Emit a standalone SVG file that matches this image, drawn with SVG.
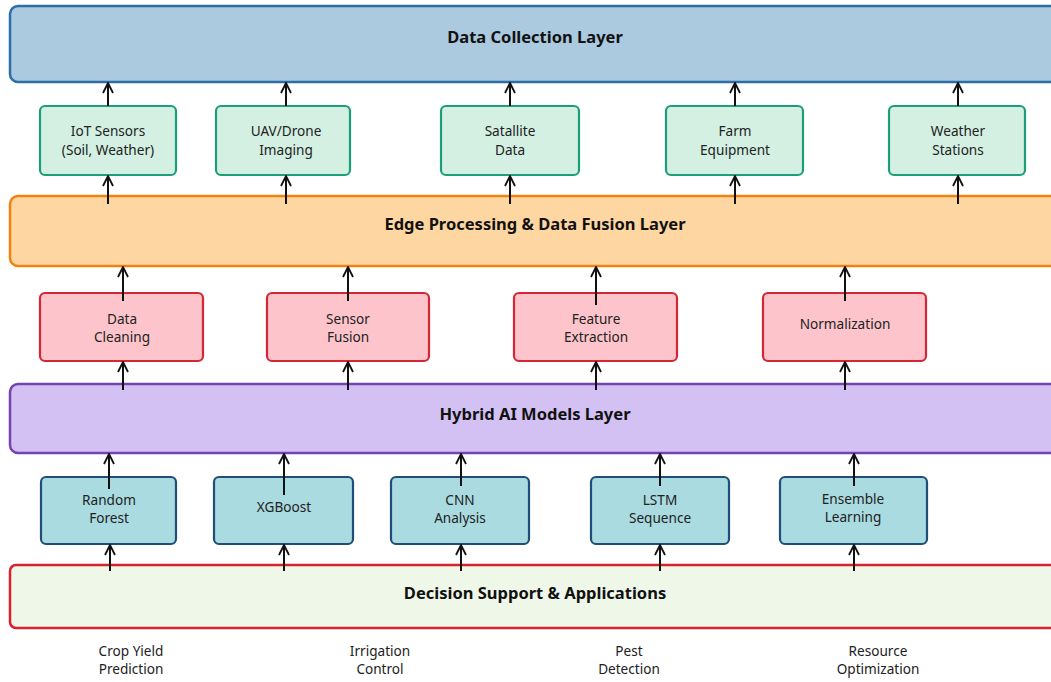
<svg xmlns="http://www.w3.org/2000/svg" width="1051" height="682" viewBox="0 0 1051 682">
  <defs>
    <marker id="arrow" viewBox="0 0 12 12" refX="11" refY="6" markerWidth="12" markerHeight="12" markerUnits="userSpaceOnUse" orient="auto">
      <path d="M1,1 L11,6 L1,11" fill="none" stroke="#111" stroke-width="1.8"/>
    </marker>
    <style>
      text { font-family: "Noto Sans", "Open Sans", "DejaVu Sans", sans-serif; fill: #222; text-anchor: middle; }
      .title { font-size: 16.5px; font-weight: bold; fill: #111; }
      .lbl { font-size: 13.6px; }
      .layer { stroke-width: 2.5; }
      .box { stroke-width: 2.2; }
      .l1 { fill: #abc9df; stroke: #2c6ea8; }
      .l2 { fill: #fdd6a2; stroke: #f2820f; }
      .l3 { fill: #d4c1f3; stroke: #7443b1; }
      .l4 { fill: #eff7e9; stroke: #d8202f; }
      .g { fill: #d3f0e3; stroke: #1c9e7b; }
      .r { fill: #fdc5cb; stroke: #d42635; }
      .t { fill: #a9dbe0; stroke: #1f4e79; }
      .conn line { stroke: #111; stroke-width: 2; marker-end: url(#arrow); }
    </style>
  </defs>
  <rect width="1051" height="682" fill="#ffffff"/>

  <!-- Layers -->
  <g id="layer-data-collection">
    <rect class="layer l1" x="10" y="6" width="1060" height="76" rx="8"/>
    <text class="title" x="535" y="43">Data Collection Layer</text>
  </g>
  <g id="layer-edge">
    <rect class="layer l2" x="10" y="196" width="1060" height="70" rx="8"/>
    <text class="title" x="535" y="230">Edge Processing &amp; Data Fusion Layer</text>
  </g>
  <g id="layer-hybrid">
    <rect class="layer l3" x="10" y="384" width="1060" height="69" rx="8"/>
    <text class="title" x="535" y="420">Hybrid AI Models Layer</text>
  </g>
  <g id="layer-decision">
    <rect class="layer l4" x="10" y="565" width="1060" height="63" rx="6"/>
    <text class="title" x="535" y="599">Decision Support &amp; Applications</text>
  </g>

  <!-- Data sources -->
  <g id="iot-sensors">
    <rect class="box g" x="40" y="106" width="136" height="69" rx="5"/>
    <text class="lbl" x="108" y="136">IoT Sensors</text>
    <text class="lbl" x="108" y="155">(Soil, Weather)</text>
  </g>
  <g id="uav-drone">
    <rect class="box g" x="216" y="106" width="134" height="69" rx="5"/>
    <text class="lbl" x="286" y="136">UAV/Drone</text>
    <text class="lbl" x="286" y="155">Imaging</text>
  </g>
  <g id="satellite">
    <rect class="box g" x="441" y="106" width="138" height="69" rx="5"/>
    <text class="lbl" x="510" y="136">Satallite</text>
    <text class="lbl" x="510" y="155">Data</text>
  </g>
  <g id="farm-equipment">
    <rect class="box g" x="666" y="106" width="137" height="69" rx="5"/>
    <text class="lbl" x="735" y="136">Farm</text>
    <text class="lbl" x="735" y="155">Equipment</text>
  </g>
  <g id="weather-stations">
    <rect class="box g" x="889" y="106" width="136" height="69" rx="5"/>
    <text class="lbl" x="958" y="136">Weather</text>
    <text class="lbl" x="958" y="155">Stations</text>
  </g>

  <!-- Processing steps -->
  <g id="data-cleaning">
    <rect class="box r" x="40" y="293" width="163" height="68" rx="5"/>
    <text class="lbl" x="122" y="324">Data</text>
    <text class="lbl" x="122" y="342">Cleaning</text>
  </g>
  <g id="sensor-fusion">
    <rect class="box r" x="267" y="293" width="162" height="68" rx="5"/>
    <text class="lbl" x="348" y="324">Sensor</text>
    <text class="lbl" x="348" y="342">Fusion</text>
  </g>
  <g id="feature-extraction">
    <rect class="box r" x="514" y="293" width="163" height="68" rx="5"/>
    <text class="lbl" x="596" y="324">Feature</text>
    <text class="lbl" x="596" y="342">Extraction</text>
  </g>
  <g id="normalization">
    <rect class="box r" x="763" y="293" width="163" height="68" rx="5"/>
    <text class="lbl" x="845" y="329">Normalization</text>
  </g>

  <!-- Models -->
  <g id="random-forest">
    <rect class="box t" x="41" y="477" width="135" height="67" rx="5"/>
    <text class="lbl" x="109" y="505">Random</text>
    <text class="lbl" x="109" y="523">Forest</text>
  </g>
  <g id="xgboost">
    <rect class="box t" x="214" y="477" width="139" height="67" rx="5"/>
    <text class="lbl" x="284" y="512">XGBoost</text>
  </g>
  <g id="cnn-analysis">
    <rect class="box t" x="391" y="477" width="138" height="67" rx="5"/>
    <text class="lbl" x="460" y="505">CNN</text>
    <text class="lbl" x="460" y="523">Analysis</text>
  </g>
  <g id="lstm-sequence">
    <rect class="box t" x="591" y="477" width="138" height="67" rx="5"/>
    <text class="lbl" x="660" y="505">LSTM</text>
    <text class="lbl" x="660" y="523">Sequence</text>
  </g>
  <g id="ensemble-learning">
    <rect class="box t" x="780" y="477" width="147" height="67" rx="5"/>
    <text class="lbl" x="853" y="504">Ensemble</text>
    <text class="lbl" x="853" y="522">Learning</text>
  </g>

  <!-- Applications -->
  <g id="applications">
    <text class="lbl" x="131" y="656">Crop Yield</text>
    <text class="lbl" x="131" y="674">Prediction</text>
    <text class="lbl" x="380" y="656">Irrigation</text>
    <text class="lbl" x="380" y="674">Control</text>
    <text class="lbl" x="629" y="656">Pest</text>
    <text class="lbl" x="629" y="674">Detection</text>
    <text class="lbl" x="878" y="656">Resource</text>
    <text class="lbl" x="878" y="674">Optimization</text>
  </g>

  <!-- Connectors -->
  <g id="connectors" class="conn">
    <!-- sources to data collection layer -->
    <line x1="108" y1="106" x2="108" y2="83"/>
    <line x1="286" y1="106" x2="286" y2="83"/>
    <line x1="510" y1="106" x2="510" y2="83"/>
    <line x1="735" y1="106" x2="735" y2="83"/>
    <line x1="958" y1="106" x2="958" y2="83"/>
    <!-- edge layer to sources -->
    <line x1="108" y1="204" x2="108" y2="176"/>
    <line x1="286" y1="204" x2="286" y2="176"/>
    <line x1="510" y1="204" x2="510" y2="176"/>
    <line x1="735" y1="204" x2="735" y2="176"/>
    <line x1="958" y1="204" x2="958" y2="176"/>
    <!-- processing to edge layer -->
    <line x1="123" y1="301" x2="123" y2="267"/>
    <line x1="348" y1="301" x2="348" y2="267"/>
    <line x1="596" y1="305" x2="596" y2="267"/>
    <line x1="845" y1="301" x2="845" y2="267"/>
    <!-- hybrid layer to processing -->
    <line x1="123" y1="390" x2="123" y2="362"/>
    <line x1="348" y1="390" x2="348" y2="362"/>
    <line x1="596" y1="390" x2="596" y2="362"/>
    <line x1="845" y1="390" x2="845" y2="362"/>
    <!-- models to hybrid layer -->
    <line x1="109" y1="489" x2="109" y2="454"/>
    <line x1="284" y1="495" x2="284" y2="454"/>
    <line x1="461" y1="486" x2="461" y2="454"/>
    <line x1="660" y1="486" x2="660" y2="454"/>
    <line x1="854" y1="486" x2="854" y2="454"/>
    <!-- decision layer to models -->
    <line x1="110" y1="571" x2="110" y2="545"/>
    <line x1="284" y1="571" x2="284" y2="545"/>
    <line x1="461" y1="571" x2="461" y2="545"/>
    <line x1="660" y1="571" x2="660" y2="545"/>
    <line x1="854" y1="571" x2="854" y2="545"/>
  </g>
</svg>
